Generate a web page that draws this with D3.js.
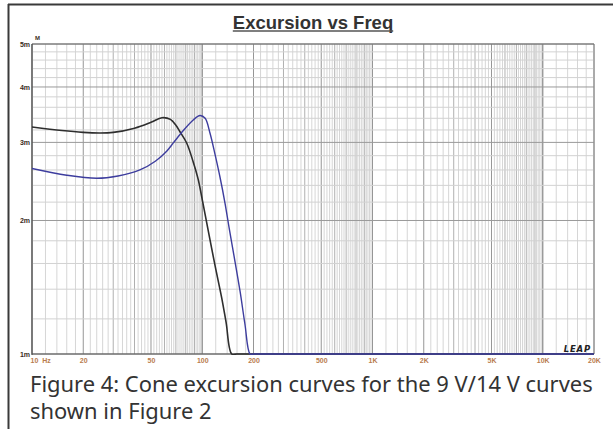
<!DOCTYPE html>
<html>
<head>
<meta charset="utf-8">
<script src="https://cdn.jsdelivr.net/npm/d3@7"></script>
<style>
  html, body { margin: 0; padding: 0; background: #fff; }
  svg { display: block; }
</style>
</head>
<body>
<svg id="chart" width="613" height="429"></svg>
<script>
// Frequency axis ticks (Hz) and their labels
const xTickValues = [10, 20, 50, 100, 200, 500, 1000, 2000, 5000, 10000, 20000];
const xTickLabels = ["10 Hz", "20", "50", "100", "200", "500", "1K", "2K", "5K", "10K", "20K"];

// Excursion axis ticks (mm) and their labels
const yTickValues = [1, 2, 3, 4, 5];
const yTickLabels = ["1m", "2m", "3m", "4m", "5m"];

// 9 V drive: frequency (Hz) and cone excursion (mm)
const freq9V = [10, 15, 20, 25, 30, 40, 50, 58, 65, 70, 74, 81, 88.5, 94.8, 99.3, 103.8, 111, 119, 130, 138, 149, 160, 200, 500, 1000, 20000];
const exc9V  = [3.25, 3.19, 3.16, 3.15, 3.16, 3.23, 3.33, 3.41, 3.38, 3.28, 3.17, 2.99, 2.71, 2.47, 2.26, 2.07, 1.81, 1.58, 1.34, 1.18, 1.0, 0.86, 0.55, 0.09, 0.02, 0.0001];

// 14 V drive: frequency (Hz) and cone excursion (mm)
const freq14V = [10, 16, 24, 32, 43, 53, 62, 68, 77.4, 88.5, 97, 104, 111, 118.6, 127, 136, 144, 156, 167, 178, 191, 200, 500, 1000, 20000];
const exc14V  = [2.62, 2.53, 2.49, 2.52, 2.60, 2.72, 2.87, 3.00, 3.19, 3.37, 3.45, 3.40, 3.15, 2.83, 2.51, 2.19, 1.92, 1.61, 1.38, 1.17, 1.0, 0.9, 0.13, 0.03, 0.0001];

const svg = d3.select("#chart");
const plotLeft = 32, plotRight = 594, plotTop = 44, plotBottom = 354;

const x = d3.scaleLog().domain([10, 20000]).range([plotLeft, plotRight]);
const y = d3.scaleLog().domain([1, 5]).range([plotBottom, plotTop]).clamp(true);

svg.append("defs").append("clipPath").attr("id", "plot-clip")
  .append("rect")
  .attr("x", plotLeft).attr("y", plotTop - 2)
  .attr("width", plotRight - plotLeft).attr("height", plotBottom - plotTop + 3);

// outer page frame
svg.append("line").attr("x1", 8).attr("x2", 613).attr("y1", 4.5).attr("y2", 4.5)
  .attr("stroke", "#3a3a3a").attr("stroke-width", 2);
svg.append("line").attr("x1", 8.5).attr("x2", 8.5).attr("y1", 4).attr("y2", 429)
  .attr("stroke", "#3a3a3a").attr("stroke-width", 2);

// title
const title = svg.append("text")
  .attr("x", 313).attr("y", 28.5)
  .attr("text-anchor", "middle")
  .attr("font-family", "Liberation Sans, Arial, sans-serif")
  .attr("font-weight", "bold")
  .attr("font-size", 18.5)
  .attr("fill", "#333")
  .text("Excursion vs Freq");
const tb = title.node().getBBox();
svg.append("line").attr("x1", tb.x).attr("x2", tb.x + tb.width)
  .attr("y1", 31).attr("y2", 31).attr("stroke", "#555").attr("stroke-width", 1.5);

// vertical grid: lines at every 0.2 step of each decade, darker on whole multiples
const vGrid = [];
[10, 100, 1000, 10000].forEach(d => {
  for (let k = 10; k <= 100; k += 2) {
    const f = d * k / 10;
    if (f > 20000) continue;
    const whole = k % 10 === 0;
    const m = k / 10;
    vGrid.push({ f, kind: whole ? (m === 1 || m === 2 || m === 5 || m === 10 ? 2 : 1) : 0 });
  }
});
const vColor = ["#d6d6d6", "#b0b0b0", "#969696"];
const gGrid = svg.append("g");
gGrid.selectAll("line.v").data(vGrid.sort((a, b) => a.kind - b.kind)).join("line")
  .attr("class", "v")
  .attr("x1", d => x(d.f)).attr("x2", d => x(d.f))
  .attr("y1", plotTop).attr("y2", plotBottom)
  .attr("stroke", d => vColor[d.kind]).attr("stroke-width", 1);

// horizontal grid: every 0.2 mm, darker on whole millimetres
const hGrid = [];
for (let k = 10; k <= 50; k += 2) hGrid.push({ v: k / 10, major: k % 10 === 0 });
gGrid.selectAll("line.h").data(hGrid.sort((a, b) => a.major - b.major)).join("line")
  .attr("class", "h")
  .attr("x1", plotLeft).attr("x2", plotRight)
  .attr("y1", d => y(d.v)).attr("y2", d => y(d.v))
  .attr("stroke", d => d.major ? "#9a9a9a" : "#d2d2d2").attr("stroke-width", 1);

// plot frame
svg.append("line").attr("x1", plotRight).attr("x2", plotRight).attr("y1", plotTop).attr("y2", plotBottom)
  .attr("stroke", "#8a8a8a");
svg.append("line").attr("x1", plotLeft).attr("x2", plotRight).attr("y1", plotTop).attr("y2", plotTop)
  .attr("stroke", "#6a6a6a");
svg.append("line").attr("x1", plotLeft).attr("x2", plotLeft).attr("y1", plotTop).attr("y2", plotBottom + 1)
  .attr("stroke", "#444").attr("stroke-width", 1.2);
svg.append("line").attr("x1", plotLeft).attr("x2", plotRight).attr("y1", plotBottom).attr("y2", plotBottom)
  .attr("stroke", "#555").attr("stroke-width", 1.2);

// x axis labels
const xAxis = d3.axisBottom(x)
  .tickValues(xTickValues)
  .tickFormat((d, i) => xTickLabels[i])
  .tickSize(0).tickPadding(4);
const gx = svg.append("g").attr("transform", `translate(0,${plotBottom})`).call(xAxis);
gx.select(".domain").remove();
gx.selectAll("text")
  .attr("font-family", "Liberation Sans, Arial, sans-serif")
  .attr("font-weight", "bold")
  .attr("font-size", 7)
  .attr("fill", "#b97c4e");
gx.selectAll(".tick").filter(d => d === 10).select("text")
  .attr("text-anchor", "start").attr("dx", -2)
  .attr("xml:space", "preserve").text("10  Hz");

// y axis labels
const yAxis = d3.axisLeft(y)
  .tickValues(yTickValues)
  .tickFormat((d, i) => yTickLabels[i])
  .tickSize(0).tickPadding(2);
const gy = svg.append("g").attr("transform", `translate(${plotLeft},0)`).call(yAxis);
gy.select(".domain").remove();
gy.selectAll("text")
  .attr("font-family", "Liberation Sans, Arial, sans-serif")
  .attr("font-weight", "bold")
  .attr("font-size", 7)
  .attr("fill", "#3a2c22");

// unit label
svg.append("text").attr("x", 35).attr("y", 40)
  .attr("font-family", "Liberation Sans, Arial, sans-serif")
  .attr("font-weight", "bold").attr("font-size", 6).attr("fill", "#3a2c22")
  .text("M");

// curves (smooth spline through the readings, clipped to the plot box)
const line = d3.line()
  .x(d => x(d[0]))
  .y(d => y(d[1]))
  .curve(d3.curveCatmullRom.alpha(0.5));

const series = [
  { f: freq9V, v: exc9V, color: "#2e2e2e", width: 1.6 },
  { f: freq14V, v: exc14V, color: "#3d3d9e", width: 1.4 }
];
svg.append("g").attr("clip-path", "url(#plot-clip)")
  .selectAll("path").data(series).join("path")
  .attr("d", s => line(s.f.map((f, i) => [f, s.v[i]])))
  .attr("fill", "none")
  .attr("stroke", s => s.color)
  .attr("stroke-width", s => s.width)
  .attr("stroke-linejoin", "round");

// LEAP mark
svg.append("text").attr("x", 591).attr("y", 352)
  .attr("text-anchor", "end")
  .attr("font-family", "DejaVu Sans, sans-serif")
  .attr("font-weight", "bold").attr("font-style", "italic")
  .attr("font-size", 8.5).attr("letter-spacing", 0.8)
  .attr("fill", "#222")
  .text("LEAP");

// caption
const capLines = ["Figure 4: Cone excursion curves for the 9 V/14 V curves", "shown in Figure 2"];
const cap = svg.append("g")
  .attr("font-family", "Noto Sans, sans-serif")
  .attr("fill", "#333");
const t1 = cap.append("text").attr("x", 30).attr("y", 392).attr("font-size", 20).text(capLines[0]);
const fs = 20 * 563 / t1.node().getComputedTextLength();
t1.attr("font-size", fs);
cap.append("text").attr("x", 30).attr("y", 419).attr("font-size", fs).text(capLines[1]);
</script>
</body>
</html>
